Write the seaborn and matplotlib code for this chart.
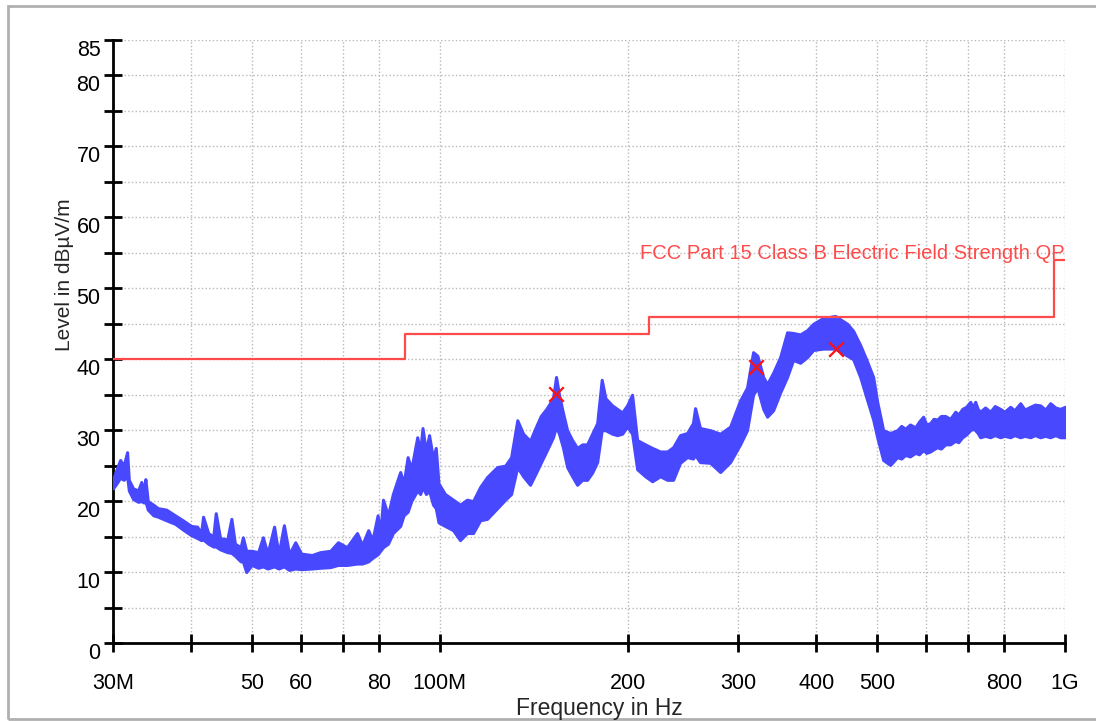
import matplotlib
matplotlib.use("Agg")
import matplotlib.pyplot as plt
import seaborn as sns
import pandas as pd
from matplotlib.patches import Rectangle
from matplotlib.ticker import FixedLocator, FixedFormatter, NullLocator

# max-hold scan, read as lower / upper edge of the trace (MHz, dBuV/m)
freq_mhz = [
    30.0, 30.4, 30.8, 31.2, 31.6, 31.8, 32.3, 32.9, 33.3, 33.6, 33.8, 34.1, 34.8, 35.4,
    36.5, 37.7, 38.8, 40.0, 40.9, 41.5, 41.8, 42.6, 43.4, 43.8, 44.5, 45.7, 46.4, 47.0,
    48.0, 48.4, 49.0, 50.0, 51.2, 52.1, 53.0, 54.3, 55.2, 56.3, 57.4, 58.7, 60.0, 62.4,
    64.3, 66.8, 68.7, 71.0, 73.7, 75.1, 76.8, 78.0, 79.5, 80.3, 81.1, 82.6, 84.1, 86.4,
    87.5, 88.8, 90.0, 92.0, 93.0, 93.8, 95.0, 96.1, 97.5, 98.5, 99.5, 101.9, 105.0,
    107.7, 110.5, 113.0, 116.0, 119.0, 123.5, 127.2, 130.0, 133.0, 135.9, 139.4, 142.5,
    145.0, 148.0, 151.7, 153.4, 155.1, 157.4, 159.8, 162.8, 165.8, 168.9, 172.0, 175.2,
    178.5, 181.5, 184.0, 188.6, 192.1, 195.7, 199.3, 203.0, 206.8, 213.0, 218.6, 225.1,
    231.0, 236.1, 242.2, 248.6, 254.0, 256.0, 260.7, 270.6, 280.8, 291.3, 302.2, 310.0,
    317.0, 322.0, 329.0, 333.8, 341.3, 350.2, 359.3, 367.4, 377.0, 386.8, 395.5, 410.0,
    428.9, 448.3, 458.3, 470.3, 480.8, 493.3, 500.7, 511.8, 525.2, 539.0, 547.0, 555.1,
    565.0, 576.0, 584.0, 593.0, 600.0, 608.7, 616.0, 624.6, 633.0, 643.3, 655.0, 667.5,
    675.0, 684.9, 695.0, 705.4, 712.0, 718.4, 725.0, 731.8, 745.0, 759.2, 772.0, 787.8,
    800.0, 817.3, 830.0, 848.0, 862.0, 879.9, 895.0, 912.7, 930.0, 947.0, 965.0, 982.5,
    1000.0,
]
level_lo = [
    21.8, 22.5, 23.3, 23.0, 23.5, 21.5, 20.3, 19.9, 20.0, 19.8, 20.0, 18.8, 18.0, 17.8,
    17.3, 16.8, 16.0, 15.2, 14.8, 14.5, 14.6, 14.0, 13.6, 13.6, 13.2, 12.8, 12.7, 12.3,
    11.5, 11.5, 10.0, 11.0, 10.6, 10.8, 10.5, 10.8, 10.5, 10.8, 10.3, 10.5, 10.4, 10.5,
    10.6, 10.7, 11.0, 11.0, 11.2, 11.2, 11.5, 12.0, 12.5, 13.0, 13.5, 14.0, 15.5, 16.5,
    18.0, 18.5, 20.0, 21.5, 21.0, 22.0, 21.0, 21.5, 19.5, 19.0, 17.0, 16.5, 15.9,
    14.5, 15.5, 15.5, 17.3, 17.5, 19.0, 20.2, 21.0, 24.8, 23.5, 22.3, 24.0,
    25.4, 27.0, 29.0, 30.5, 29.5, 27.5, 24.8, 23.5, 22.3, 23.0, 23.0, 24.0,
    25.5, 30.0, 30.0, 29.5, 29.3, 29.5, 30.5, 29.5, 24.5, 23.5, 22.8, 23.5,
    23.0, 23.0, 25.4, 26.2, 26.0, 26.5, 25.5, 25.4, 24.1, 25.5, 28.0, 30.0,
    35.0, 36.0, 33.0, 31.9, 32.8, 35.3, 37.5, 39.9, 39.5, 40.3, 41.3, 41.5,
    41.5, 40.5, 40.0, 37.5, 34.7, 31.5, 29.0, 25.8, 25.1, 26.2, 26.0, 26.5,
    26.3, 26.8, 26.6, 27.2, 26.8, 27.0, 27.3, 27.6, 27.4, 28.0, 28.0, 28.5,
    28.3, 29.0, 29.4, 30.0, 30.2, 30.0, 29.6, 29.0, 29.2, 29.0, 29.3, 29.0,
    29.2, 29.0, 29.3, 29.0, 29.2, 29.0, 29.3, 29.0, 29.2, 29.0, 29.3, 29.0,
    29.0,
]
level_hi = [
    23.0, 24.5, 25.8, 25.0, 26.9, 23.0, 21.8, 21.5, 22.7, 21.3, 23.1, 20.0, 19.5, 19.0,
    18.8, 18.0, 17.3, 16.5, 16.4, 15.5, 17.8, 15.5, 15.0, 18.3, 14.8, 14.6, 17.5, 14.0,
    13.5, 14.9, 13.0, 13.0, 12.8, 14.9, 12.6, 16.4, 12.5, 16.6, 12.5, 14.2, 12.6, 12.4,
    12.8, 13.0, 14.2, 13.5, 15.5, 13.8, 15.9, 14.5, 18.0, 15.5, 20.2, 18.0, 21.0, 24.1,
    22.5, 26.2, 24.5, 29.0, 27.0, 30.3, 27.0, 29.3, 26.0, 27.5, 22.5, 21.0, 20.2,
    19.5, 20.2, 20.0, 22.0, 23.4, 24.8, 25.0, 26.2, 31.4, 29.5, 28.5, 30.5,
    32.0, 33.0, 34.5, 37.5, 35.0, 32.4, 30.0, 28.6, 27.5, 28.0, 28.0, 29.5,
    31.0, 37.1, 34.5, 33.5, 33.0, 32.5, 33.5, 35.0, 28.6, 28.0, 27.5, 27.0,
    27.0, 27.6, 29.3, 29.6, 31.0, 33.1, 30.3, 30.0, 29.5, 30.5, 34.2, 36.0,
    41.0, 40.5, 37.5, 36.5, 38.1, 40.3, 43.8, 43.7, 43.5, 44.1, 45.0, 45.8,
    46.1, 45.0, 44.0, 42.0, 40.0, 37.5, 34.0, 30.0, 29.6, 30.0, 30.6, 30.2,
    30.8, 30.4, 31.2, 31.9, 30.8, 31.0, 31.6, 31.5, 32.0, 32.0, 31.6, 32.6,
    32.2, 33.0, 33.3, 34.0, 33.2, 34.0, 33.0, 32.6, 33.2, 32.6, 33.4, 33.0,
    32.6, 33.3, 32.8, 33.8, 32.9, 33.3, 33.6, 33.5, 32.9, 33.8, 33.2, 33.0,
    33.3,
]

# FCC Part 15 class B, QP limit
limit_freq_mhz = [30, 88, 216, 960, 1000]
limit_level = [40, 43.5, 46, 54, 54]
limit_name = "FCC Part 15 Class B Electric Field Strength QP"

# final QP readings
peak_freq_mhz = [153.4, 320.6, 430.5]
peak_level = [35.1, 38.9, 41.5]

x_ticks = [30, 40, 50, 60, 70, 80, 100, 200, 300, 400, 500, 600, 700, 800, 1000]
x_tick_labels = ["30M", "", "50", "60", "", "80", "100M", "200", "300", "400", "500",
                 "", "", "800", "1G"]
y_ticks = list(range(0, 90, 5))
y_tick_labels = ["0", "", "10", "", "20", "", "30", "", "40", "", "50", "", "60", "",
                 "70", "", "80", "85"]

trace_blue = "#4848ff"
limit_red = "#ff4a4a"

sns.set_style("white")
plt.rcParams["font.family"] = ["Liberation Sans", "DejaVu Sans"]

fig = plt.figure(figsize=(10.96, 7.21), dpi=100)
ax = fig.add_axes([113 / 1096, 78 / 721, 952 / 1096, 603 / 721])

trace = pd.DataFrame({"freq": freq_mhz, "lo": level_lo, "hi": level_hi})
ax.fill_between(trace["freq"], trace["lo"], trace["hi"], color=trace_blue,
                edgecolor=trace_blue, linewidth=2.2, zorder=3)

sns.lineplot(x=limit_freq_mhz, y=limit_level, drawstyle="steps-post", color=limit_red,
             linewidth=1.6, ax=ax, zorder=4)
sns.scatterplot(x=peak_freq_mhz, y=peak_level, marker="x", color="#ff1010", s=110,
                linewidth=1.6, ax=ax, zorder=5)

ax.text(1000, 54.1, limit_name, color=limit_red, fontsize=14.5, ha="right",
        va="baseline", zorder=2)

ax.set_xscale("log")
ax.set_xlim(30, 1000)
ax.set_ylim(0, 85)
ax.xaxis.set_major_locator(FixedLocator(x_ticks))
ax.xaxis.set_major_formatter(FixedFormatter(x_tick_labels))
ax.xaxis.set_minor_locator(NullLocator())
ax.yaxis.set_major_locator(FixedLocator(y_ticks))
ax.yaxis.set_major_formatter(FixedFormatter(y_tick_labels))

ax.grid(True, linestyle=":", color="#b8b8b8", linewidth=1)
ax.set_axisbelow(True)
for side in ["top", "right"]:
    ax.spines[side].set_visible(False)
for side in ["left", "bottom"]:
    ax.spines[side].set_linewidth(2)
    ax.spines[side].set_color("black")

ax.tick_params(axis="both", direction="inout", length=13, width=2, color="black",
               labelsize=15.5, labelcolor="black", left=True, bottom=True)
ax.tick_params(axis="x", pad=15)
ax.tick_params(axis="y", pad=2.5)
for t in ax.yaxis.get_major_ticks():
    t.label1.set_verticalalignment("top")

ax.set_xlabel("")
ax.set_ylabel("")
fig.text(65 / 1096, 1 - 275 / 721, "Level in dBµV/m", rotation=90, fontsize=15,
         ha="center", va="center")
fig.text(599 / 1096, 1 - 709 / 721, "Frequency in Hz", fontsize=16.5,
         ha="center", va="center")

fig.patches.append(Rectangle((8 / 1096, 2 / 721), 1.2, 713 / 721, transform=fig.transFigure,
                             fill=False, edgecolor="#b0b0b0", linewidth=2))

fig.savefig("out.png", dpi=100)
